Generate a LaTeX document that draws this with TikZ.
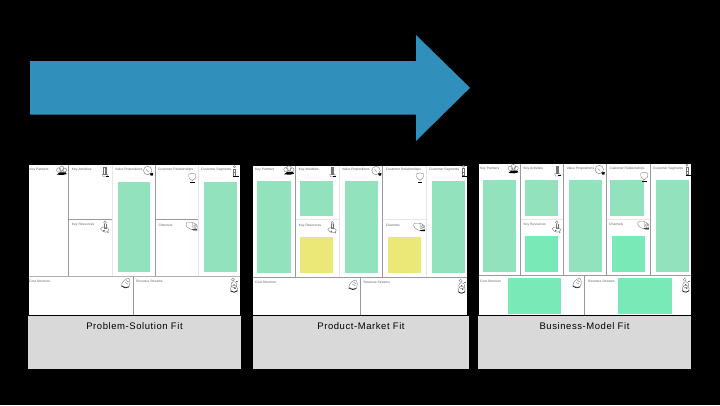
\documentclass[tikz,border=0pt]{standalone}
\usepackage{fontspec}
\setmainfont{Liberation Sans}
\newfontfamily\capfont[LetterSpace=6]{Liberation Sans}
\definecolor{arrowblue}{HTML}{318FBC}
\definecolor{softgreen}{HTML}{93E2BE}
\definecolor{brightgreen}{HTML}{79E9B8}
\definecolor{softyellow}{HTML}{ECE878}
\definecolor{capgrey}{HTML}{D9D9D9}
\definecolor{darkrule}{HTML}{9A9A9A}
\definecolor{lightrule}{HTML}{E6E6E6}
\tikzset{
  canvas/.style={fill=white,draw=none},
  caption/.style={fill=capgrey,draw=none},
  sticky/.style={fill=#1,draw=none},
  heavyrule/.style={draw=darkrule,line width=1pt},
  lightline/.style={draw=lightrule,line width=1pt},
  thinrule/.style={draw=darkrule,line width=.6pt},
  celllabel/.style={anchor=west,inner sep=0pt,font=\fontsize{3.3}{3.3}\selectfont,text=black!62},
  captext/.style={inner sep=0pt,font=\capfont\fontsize{9.5}{10}\selectfont,text=black},
  sk/.style={draw=black!55,line width=.35pt,fill=none},
  ink/.style={fill=black,draw=none}
}
\newcommand{\iconpartner}[2]{\begin{scope}[shift={(#1,#2)}]
  \draw[sk] (-3,-1) circle (2.2); \draw[sk] (0,-2.5) circle (2.4); \draw[sk] (3,-1) circle (2);
  \draw[sk] (-1,0) -- (2,2);
  \fill[ink] (-5,3.6) -- (-2,1.4) -- (4,1.4) -- (5,3) -- (1,4) -- cycle;
\end{scope}}
\newcommand{\iconactivity}[2]{\begin{scope}[shift={(#1,#2)}]
  \draw[sk] (-1.5,-5) rectangle (1,2.5); \draw[sk] (-.3,-5) -- (-.3,2.5);
  \draw[sk] (-2.5,2.5) -- (2.5,2.5) -- (3,5) -- (-2,5) -- cycle;
  \fill[ink] (1,4.2) rectangle (4,5);
\end{scope}}
\newcommand{\iconvalue}[2]{\begin{scope}[shift={(#1,#2)}]
  \draw[sk] (0,-.5) circle (4.2); \draw[sk] (-1.5,-1.5) -- (1,1);
  \fill[ink] (2,2.5) -- (5.5,2) -- (5,4.6) -- (3,4.6) -- cycle;
\end{scope}}
\newcommand{\iconrelation}[2]{\begin{scope}[shift={(#1,#2)}]
  \draw[sk] (-3.5,-3.5) .. controls (-1,-5) and (1,-4.6) .. (3.5,-3.5) .. controls (4,0) and (2,2.5) .. (0,3) .. controls (-2.5,2) and (-4,0) .. (-3.5,-3.5);
  \fill[ink] (-2,4.3) rectangle (2.4,5);
\end{scope}}
\newcommand{\iconsegment}[2]{\begin{scope}[shift={(#1,#2)}]
  \draw[sk] (-.5,-5.5) circle (1.1); \draw[sk] (-1.6,-3.5) rectangle (.6,3.5); \draw[sk] (-1.6,0) -- (.6,0);
  \fill[ink] (-1.6,4) rectangle (4,5);
\end{scope}}
\newcommand{\iconresource}[2]{\begin{scope}[shift={(#1,#2)}]
  \draw[sk] (0,-5.5) circle (1.4); \draw[sk] (-1,-4) -- (-1,0) -- (1.2,0) -- (1.2,-4);
  \draw[sk] (-4.5,1) .. controls (-3,-2) and (3,-1) .. (4,2) .. controls (3,5) and (-2,6) .. (-4.5,1);
  \fill[black!70] (-1,3) circle (.8); \fill[black!70] (3,4.5) circle (.6);
\end{scope}}
\newcommand{\iconchannel}[2]{\begin{scope}[shift={(#1,#2)}]
  \draw[sk,rounded corners=1pt] (-5.5,-3.5) -- (1,-3.5) -- (5.5,-1) -- (5.5,3.5) -- (-1,3.5) -- (-5.5,.5) -- cycle;
  \draw[sk] (1,-3.5) -- (1,1.5) -- (5.5,3.5); \draw[sk] (3.4,0) circle (1.4);
  \fill[ink] (0,3.4) -- (5.5,3.4) -- (5.5,4.4) -- (2,4.4) -- cycle;
\end{scope}}
\newcommand{\iconcost}[2]{\begin{scope}[shift={(#1,#2)}]
  \draw[sk] (-4.5,2) .. controls (-4,-2) and (0,-5) .. (2.5,-5) .. controls (4.5,-3) and (4.5,1) .. (2.5,3.5) .. controls (0,4.5) and (-3,4) .. (-4.5,2);
  \draw[sk] (-1,-1) -- (2,1); \draw[sk] (0,-3) -- (3,-1);
  \draw[black,line width=.6pt] (-4.5,3) .. controls (-2,5) and (1,5) .. (3,3.5);
\end{scope}}
\newcommand{\iconrevenue}[2]{\begin{scope}[shift={(#1,#2)}]
  \draw[sk] (-1,-6) circle (1.5); \draw[sk] (2,-5) -- (4,-5);
  \draw[sk] (0,-1) circle (3); \draw[sk] (0,3) circle (3.5);
  \fill[black!70] (0,-1) circle (.7); \fill[black!70] (1,2.5) circle (.8);
  \draw[black,line width=.6pt] (-3.5,5) .. controls (-1,7) and (2,7) .. (3.5,5);
\end{scope}}
\begin{document}
\begin{tikzpicture}[x=1pt,y=-1pt]
\path[use as bounding box,fill=black] (0,0) rectangle (720,405);
% arrow
\fill[arrowblue] (30,61) -- (416,61) -- (416,35) -- (470,87.8) -- (416,141) -- (416,114.7) -- (30,114.7) -- cycle;

% ---------- panel 1
\fill[canvas] (29,165) rectangle (240,315);
\draw[heavyrule] (68.7,165) -- (68.7,276);
\draw[lightline] (112,165) -- (112,276);
\draw[heavyrule] (155,165) -- (155,276);
\draw[lightline] (198.3,165) -- (198.3,276);
\draw[thinrule] (69,219.3) -- (112,219.3);
\draw[thinrule] (155,219.3) -- (198,219.3);
\draw[draw=black!30,line width=.5pt] (29,276.3) -- (240,276.3);
\draw[thinrule] (133.3,276.3) -- (133.3,315);
\fill[sticky=softgreen] (117.7,181.7) rectangle (150.3,271.7);
\fill[sticky=softgreen] (204,181.7) rectangle (236.7,271.7);
\fill[caption] (28,316) rectangle (241,369);
\node[captext] (cap1) at (134.5,325.7) {Problem-Solution Fit};
\foreach \n/\x/\y/\t in {a/29.3/170/Key Partners,b/71.7/170/Key Activities,c/115/170/Value Propositions,d/158/170/Customer Relationships,e/201/170/Customer Segments,f/71.7/225/Key Resources,g/158.3/225/Channels,h/29/281.7/Cost Structure,i/136/281.7/Revenue Streams}
  \node[celllabel] (p1\n) at (\x,\y) {\t};
\iconpartner{61.7}{171}\iconactivity{105}{171.7}\iconvalue{147.7}{171}\iconrelation{192.3}{177.7}\iconsegment{235}{172.3}
\iconresource{105}{227.7}\iconchannel{191.7}{226}\iconcost{126}{283.3}\iconrevenue{234}{285.7}

% ---------- panel 2
\fill[canvas] (253,166) rectangle (467,315);
\draw[heavyrule] (295.7,166) -- (295.7,277);
\draw[lightline] (339.3,166) -- (339.3,277);
\draw[heavyrule] (382.3,166) -- (382.3,277);
\draw[lightline] (426.3,166) -- (426.3,277);
\draw[lightline] (296,219.3) -- (339,219.3);
\draw[lightline] (382.5,219.3) -- (426,219.3);
\draw[heavyrule] (253,277) -- (467,277);
\draw[thinrule] (360.3,277) -- (360.3,315);
\fill[sticky=softgreen] (257,181) rectangle (291,272.5);
\fill[sticky=softgreen] (300,181) rectangle (333.3,216.3);
\fill[sticky=softyellow] (300,237.3) rectangle (333.3,272.7);
\fill[sticky=softgreen] (345,181) rectangle (377.7,272.5);
\fill[sticky=softyellow] (387.7,237.3) rectangle (421,272.7);
\fill[sticky=softgreen] (432,181) rectangle (465,272.5);
\fill[caption] (253,316) rectangle (469,369);
\node[captext] (cap2) at (361,325.7) {Product-Market Fit};
\foreach \n/\x/\y/\t in {a/255/169.7/Key Partners,b/298.7/169.7/Key Activities,c/342/169.7/Value Propositions,d/385.7/169.7/Customer Relationships,e/429/169.7/Customer Segments,f/298.7/225.3/Key Resources,g/385.7/225.3/Channels,h/255/282.5/Cost Structure,i/363.3/282.5/Revenue Streams}
  \node[celllabel] (p2\n) at (\x,\y) {\t};
\iconpartner{289}{170.7}\iconactivity{332.3}{171.7}\iconvalue{376}{171}\iconrelation{420}{177.3}\iconsegment{464}{171.7}
\iconresource{332.3}{228.3}\iconchannel{419.3}{226.7}\iconcost{353.3}{285}\iconrevenue{461.7}{286.7}

% ---------- panel 3
\fill[canvas] (479,164) rectangle (691,315);
\draw[heavyrule] (520,164) -- (520,275.3);
\draw[heavyrule] (563.7,164) -- (563.7,275.3);
\draw[heavyrule] (606.3,164) -- (606.3,275.3);
\draw[heavyrule] (650.3,164) -- (650.3,275.3);
\draw[lightline] (520.5,219.3) -- (563,219.3);
\draw[lightline] (607,219.3) -- (650,219.3);
\draw[heavyrule] (479,275.3) -- (691,275.3);
\draw[thinrule] (584.7,275.3) -- (584.7,315);
\fill[sticky=softgreen] (482.7,180) rectangle (516,271.7);
\fill[sticky=softgreen] (525,180) rectangle (558.3,215.7);
\fill[sticky=brightgreen] (525,236.3) rectangle (558.3,271.7);
\fill[sticky=softgreen] (569.3,180) rectangle (602.3,271.7);
\fill[sticky=softgreen] (610.3,180) rectangle (644,215.7);
\fill[sticky=brightgreen] (612,236.3) rectangle (645,271.7);
\fill[sticky=softgreen] (656,180) rectangle (689.3,271.7);
\fill[sticky=brightgreen] (508,278.3) rectangle (561.3,314);
\fill[sticky=brightgreen] (618,278.3) rectangle (672,314);
\fill[caption] (478,316) rectangle (690.7,369);
\node[captext] (cap3) at (584.5,325.7) {Business-Model Fit};
\foreach \n/\x/\y/\t in {a/480/168.7/Key Partners,b/523.3/168.7/Key Activities,c/566.7/168.7/Value Propositions,d/609.3/168.7/Customer Relationships,e/653/168.7/Customer Segments,f/523.3/224.3/Key Resources,g/609/224.3/Channels,h/480/281/Cost Structure,i/588/281/Revenue Streams}
  \node[celllabel] (p3\n) at (\x,\y) {\t};
\iconpartner{513.3}{169.3}\iconactivity{557.3}{171}\iconvalue{599.3}{170}\iconrelation{644.3}{176.7}\iconsegment{687.3}{170.7}
\iconresource{556.7}{227.7}\iconchannel{643.3}{225}\iconcost{577.3}{283.3}\iconrevenue{685.7}{285.7}
\end{tikzpicture}
\end{document}
